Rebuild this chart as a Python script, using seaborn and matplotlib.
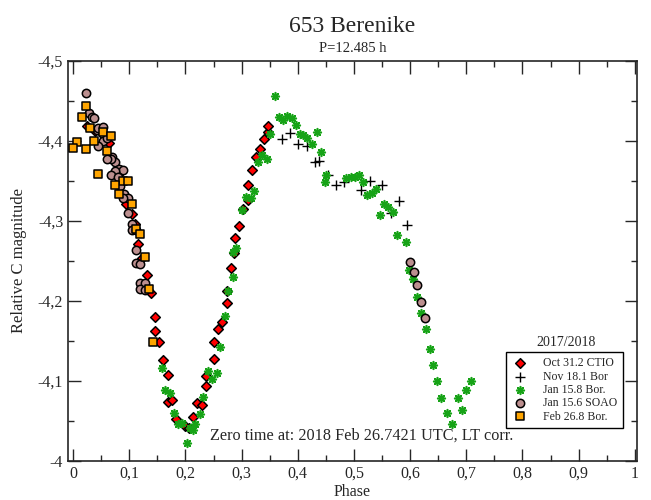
import matplotlib
matplotlib.use("Agg")
import matplotlib.pyplot as plt
from matplotlib.ticker import MultipleLocator, FuncFormatter
import seaborn as sns

# Oct 31.2 CTIO (red diamonds)
oct_phase = [0.0254, 0.039, 0.0635, 0.0795, 0.0943, 0.1044, 0.110, 0.116, 0.122, 0.132,
             0.138, 0.146, 0.146, 0.1536, 0.1607, 0.1685, 0.169, 0.1767, 0.1833, 0.1993,
             0.2064, 0.213, 0.221, 0.229, 0.2363, 0.2363, 0.251, 0.251, 0.2584, 0.2657,
             0.2735, 0.2735, 0.2806, 0.287, 0.2877, 0.296, 0.302, 0.311, 0.311, 0.318,
             0.3256, 0.3327, 0.3404, 0.3475, 0.3475]
oct_mag = [-4.418, -4.412, -4.397, -4.357, -4.321, -4.308, -4.296, -4.271, -4.254, -4.232,
           -4.210, -4.179, -4.162, -4.148, -4.126, -4.107, -4.074, -4.076, -4.052, -4.044,
           -4.041, -4.055, -4.072, -4.070, -4.093, -4.106, -4.127, -4.148, -4.165, -4.173,
           -4.197, -4.2125, -4.2405, -4.260, -4.279, -4.294, -4.3146, -4.326, -4.345, -4.363,
           -4.380, -4.389, -4.4025, -4.4105, -4.419]

# Nov 18.1 Bor (black crosses)
nov_phase = [0.3714, 0.386, 0.401, 0.416, 0.4306, 0.4377, 0.453, 0.468, 0.482, 0.5125,
             0.5285, 0.550, 0.5664, 0.5806, 0.595]
nov_mag = [-4.4018, -4.410, -4.396, -4.393, -4.374, -4.375, -4.357, -4.344, -4.348, -4.338,
           -4.350, -4.344, -4.309, -4.325, -4.295]

# Jan 15.8 Bor. (green asterisks)
jan8_phase = [0.1578, 0.1637, 0.1726, 0.180, 0.1874, 0.1945, 0.2023, 0.2082, 0.214, 0.217,
              0.2254, 0.2318, 0.2407, 0.2468, 0.2557, 0.2616, 0.2705, 0.2763, 0.2852, 0.2852,
              0.290, 0.300, 0.3078, 0.3162, 0.322, 0.3297, 0.3368, 0.3447, 0.3505,
              0.3594, 0.367, 0.373, 0.3813, 0.389, 0.397, 0.404, 0.410, 0.4158, 0.4258,
              0.4336, 0.4407, 0.450, 0.449, 0.4858, 0.4955, 0.5018, 0.5094, 0.5165, 0.524,
              0.5315, 0.539, 0.5537, 0.561, 0.5694, 0.5463, 0.576, 0.592, 0.5984, 0.6055,
              0.612, 0.620, 0.628, 0.635, 0.641, 0.648, 0.655, 0.665, 0.674, 0.685,
              0.692, 0.699, 0.708]
jan8_mag = [-4.1155, -4.0878, -4.0843, -4.0593, -4.0456, -4.0468, -4.0225, -4.0405, -4.0384, -4.0463,
            -4.0584, -4.0796, -4.1125, -4.1024, -4.110, -4.1421, -4.1813, -4.2119, -4.2296, -4.2613,
            -4.2655, -4.3134, -4.330, -4.328, -4.3375, -4.3738, -4.382, -4.3768, -4.408,
            -4.4563, -4.429, -4.426, -4.431, -4.428, -4.420, -4.409, -4.407, -4.403, -4.3955,
            -4.4113, -4.3855, -4.357, -4.348, -4.353, -4.355, -4.354, -4.357, -4.3486, -4.332,
            -4.335, -4.340, -4.3206, -4.3175, -4.3106, -4.3068, -4.2819, -4.2734, -4.2384, -4.2271,
            -4.205, -4.185, -4.165, -4.140, -4.120, -4.100, -4.078, -4.060, -4.046, -4.079,
            -4.063, -4.088, -4.100]

# Jan 15.6 SOAO (rosy circles)
soao_phase = [0.0231, 0.029, 0.0338, 0.0379, 0.0432, 0.045, 0.0528, 0.054, 0.0539, 0.045,
              0.060, 0.0689, 0.0747, 0.0671, 0.060, 0.0824, 0.0895, 0.0747, 0.0676, 0.080,
              0.0836, 0.0913, 0.0973, 0.0895, 0.0984, 0.1044, 0.1044, 0.1121, 0.1121, 0.1121,
              0.1192, 0.1192, 0.1281, 0.1192, 0.1281, 0.5996, 0.6073, 0.612, 0.620, 0.626]
soao_mag = [-4.460, -4.434, -4.430, -4.428, -4.413, -4.416, -4.417, -4.408, -4.400, -4.393,
            -4.404, -4.380, -4.374, -4.377, -4.377, -4.365, -4.364, -4.362, -4.357, -4.355,
            -4.343, -4.333, -4.328, -4.328, -4.310, -4.296, -4.288, -4.289, -4.263, -4.247,
            -4.246, -4.222, -4.222, -4.215, -4.213, -4.2487, -4.2355, -4.220, -4.198, -4.178]

# Feb 26.8 Bor. (orange squares)
feb_phase = [0.0226, 0.0155, 0.0302, 0.0528, 0.0676, 0.0379, 0.0077, 0.0, 0.0231, 0.060,
             0.045, 0.0884, 0.0973, 0.0747, 0.0824, 0.1044, 0.1126, 0.1198, 0.1276, 0.1347,
             0.1429]
feb_mag = [-4.443, -4.430, -4.416, -4.411, -4.406, -4.400, -4.398, -4.391, -4.389, -4.387,
           -4.358, -4.350, -4.350, -4.344, -4.334, -4.321, -4.290, -4.283, -4.255, -4.215,
           -4.148]

sns.set_style("ticks")
plt.rcParams['font.family'] = ['Liberation Serif', 'DejaVu Serif']

fig = plt.figure(figsize=(6.51, 5.0), dpi=100)
ax = fig.add_axes([0.1045, 0.0786, 0.874, 0.80])

sns.scatterplot(x=oct_phase, y=oct_mag, marker='D', s=24, color='#ff0000',
                edgecolor='black', linewidth=1.1, label='Oct 31.2 CTIO', ax=ax, zorder=3)
sns.scatterplot(x=nov_phase, y=nov_mag, marker='+', s=48, color='black',
                linewidth=1.0, label='Nov 18.1 Bor', ax=ax, zorder=3)
sns.scatterplot(x=jan8_phase, y=jan8_mag, marker=(8, 2, 0), s=30, color='#17a317',
                linewidth=1.2, label='Jan 15.8 Bor.', ax=ax, zorder=3)
sns.scatterplot(x=soao_phase, y=soao_mag, marker='o', s=36, color='#bc8f8f',
                edgecolor='black', linewidth=1.1, label='Jan 15.6 SOAO', ax=ax, zorder=3)
sns.scatterplot(x=feb_phase, y=feb_mag, marker='s', s=28, color='#ffa500',
                edgecolor='black', linewidth=1.1, label='Feb 26.8 Bor.', ax=ax, zorder=3)

ax.set_xlim(-0.009, 1.004)
ax.set_ylim(-4.0, -4.5)

ax.xaxis.set_major_locator(MultipleLocator(0.1))
ax.xaxis.set_minor_locator(MultipleLocator(0.05))
ax.yaxis.set_major_locator(MultipleLocator(0.1))
ax.yaxis.set_minor_locator(MultipleLocator(0.05))


def comma_fmt(v, pos):
    s = f"{v:.1f}".rstrip('0').rstrip('.')
    if s == '-0':
        s = '0'
    return s.replace('.', ',')


ax.xaxis.set_major_formatter(FuncFormatter(comma_fmt))
ax.yaxis.set_major_formatter(FuncFormatter(comma_fmt))
ax.tick_params(which='both', direction='in', top=True, right=True, labelsize=11.5, width=1.0)
ax.tick_params(which='major', length=9)
ax.tick_params(which='minor', length=4.5)
for sp in ax.spines.values():
    sp.set_linewidth(1.2)

ax.set_xlabel("Phase", fontsize=11.5, labelpad=2)
ax.set_ylabel("Relative C magnitude", fontsize=12, labelpad=8)

fig.text(0.5415, 0.946, "653 Berenike", ha='center', va='center', fontsize=17)
fig.text(0.5415, 0.904, "P=12.485 h", ha='center', va='center', fontsize=10.5)

ax.text(0.516, 0.063, "Zero time at: 2018 Feb 26.7421 UTC, LT corr.", transform=ax.transAxes,
        ha='center', va='center', fontsize=11.7)

leg = ax.legend(loc='lower right', bbox_to_anchor=(0.9754, 0.0818), fontsize=8.5,
                frameon=True, fancybox=False, edgecolor='black', framealpha=1,
                labelspacing=0.11, handlelength=1.5, handletextpad=1.2,
                borderpad=0.46, borderaxespad=0)
leg.get_frame().set_linewidth(1.0)
ax.text(0.876, 0.295, "2017/2018", transform=ax.transAxes, ha='center', va='center', fontsize=10)

plt.savefig("out.png", dpi=100)
